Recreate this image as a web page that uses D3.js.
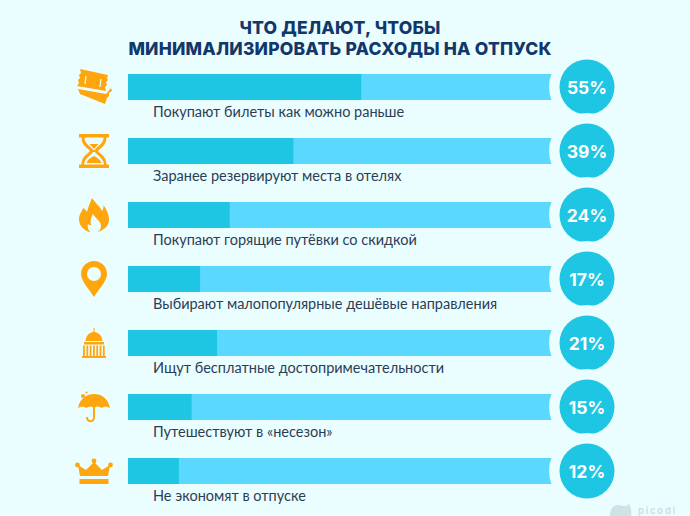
<!DOCTYPE html>
<html>
<head>
<meta charset="utf-8">
<script src="https://cdnjs.cloudflare.com/ajax/libs/d3/7.8.5/d3.min.js"></script>
<style>
  html, body { margin: 0; padding: 0; background: #ebfeff; }
  svg { display: block; }
  text { font-family: Inter, "Open Sans", sans-serif; }
  .label { font-family: Lato, "Open Sans", sans-serif; }
</style>
</head>
<body>
<svg id="chart" width="690" height="516"></svg>
<script>
const titleLines = ['ЧТО ДЕЛАЮТ, ЧТОБЫ', 'МИНИМАЛИЗИРОВАТЬ РАСХОДЫ НА ОТПУСК'];
const categories = [
  'Покупают билеты как можно раньше',
  'Заранее резервируют места в отелях',
  'Покупают горящие путёвки со скидкой',
  'Выбирают малопопулярные дешёвые направления',
  'Ищут бесплатные достопримечательности',
  'Путешествуют в «несезон»',
  'Не экономят в отпуске'
];
const values = [55, 39, 24, 17, 21, 15, 12];
const iconNames = ['ticket', 'hourglass', 'flame', 'pin', 'capitol', 'umbrella', 'crown'];

const bgColor = '#ebfeff';
const trackColor = '#5ad8ff';
const fillColor = '#1fc6e3';
const iconColor = '#ffa60f';

const svg = d3.select('#chart');
svg.append('rect').attr('width', 690).attr('height', 516).attr('fill', bgColor);

// scales
const x = d3.scaleLinear().domain([0, 100]).range([128, 552]);
const y = d3.scalePoint().domain(categories).range([87, 471]);
const barH = 26;

// title
svg.selectAll('.title')
  .data(titleLines)
  .enter().append('text')
  .attr('class', 'title')
  .attr('x', 340)
  .attr('y', (d, i) => 34 + i * 21)
  .attr('text-anchor', 'middle')
  .attr('font-size', 17.5)
  .attr('font-weight', 800)
  .attr('letter-spacing', 0.2)
  .attr('fill', '#12386b')
  .text(d => d);

const rows = svg.selectAll('.row')
  .data(categories)
  .enter().append('g')
  .attr('class', 'row');

rows.append('rect')
  .attr('x', x(0))
  .attr('y', d => y(d) - barH / 2)
  .attr('width', x(100) - x(0))
  .attr('height', barH)
  .attr('fill', trackColor);

rows.append('rect')
  .attr('x', x(0))
  .attr('y', d => y(d) - barH / 2)
  .attr('width', (d, i) => x(values[i]) - x(0))
  .attr('height', barH)
  .attr('fill', fillColor);

// background ring cuts the end of the bar
rows.append('circle')
  .attr('cx', 587)
  .attr('cy', d => y(d))
  .attr('r', 38)
  .attr('fill', bgColor);

rows.append('circle')
  .attr('cx', 587)
  .attr('cy', d => y(d))
  .attr('r', 27.5)
  .attr('fill', fillColor);

rows.append('text')
  .attr('x', 587)
  .attr('y', d => y(d) + 6.5)
  .attr('text-anchor', 'middle')
  .attr('font-size', 17.5)
  .attr('font-weight', 700)
  .attr('fill', '#fff')
  .text((d, i) => values[i] + '%');

rows.append('text')
  .attr('class', 'label')
  .attr('x', 153)
  .attr('y', d => y(d) + 30)
  .attr('font-size', 14.5)
  .attr('fill', '#2b3d55')
  .text(d => d);

// icons, drawn around (0,0)
const icons = {
  ticket(g) {
    g.append('path').attr('d', 'M-14,-18 L14,-12 L13,-9 L14,-7 L12,-5 L13,-2 L11,0 L12,4 L-17,-1 L-15,-4 L-16,-7 L-14,-9 L-15,-12 L-13,-14 Z');
    g.append('path').attr('d', 'M-16,2 L12,7 L17,1 L18,4 L15,6 L15,9 L13,11 L11,17 L-14,7 Z');
    g.append('path').attr('d', 'M-8,-11 L-9,-3 M7,-8 L6,0').attr('stroke', bgColor).attr('stroke-width', 1.2).attr('fill', 'none');
  },
  hourglass(g) {
    g.append('path').attr('d', 'M-15,-17 H15 V-13.5 H12.5 C12.5,-5 6,-3 4,0 C6,3 12.5,5 12.5,13.5 H15 V17 H-15 V13.5 H-12.5 C-12.5,5 -6,3 -4,0 C-6,-3 -12.5,-5 -12.5,-13.5 H-15 Z');
    g.append('path').attr('d', 'M-9.5,-13.5 H9.5 C9.5,-7 3,-5 1,-1 H-1 C-3,-5 -9.5,-7 -9.5,-13.5 Z M-10,13.5 C-10,8 -3,4 -1,1 H1 C3,4 10,8 10,13.5 Z').attr('fill', bgColor);
    g.append('path').attr('d', 'M-4.5,-7 H4.5 L0,-2 Z M-7.5,12 C-6,8 -2,6 0,5 C2,6 6,8 7.5,12 Z');
  },
  flame(g) {
    g.append('path').attr('d', 'M-2,-17 C2,-11 6,-9 8,-4 C9.5,-6 9.5,-8 9.5,-10 C13,-5 15,0 15,4 C15,11 10,15 4,17 L-5,17 C-10,15 -15,11 -15,4 C-15,-1 -12,-3 -11,-7 C-9,-6 -8,-5 -7,-3 C-6,-8 -4,-12 -2,-17 Z');
    g.append('path').attr('d', 'M-1,-1 C1,3 7,6 7,11 C7,14 5,16 3,18 H-3 C-6,15 -7,12 -6,9 C-5,10 -4,10 -3,10 C-4,6 -3,2 -1,-1 Z').attr('fill', bgColor);
  },
  pin(g) {
    g.append('path')
      .attr('fill-rule', 'evenodd')
      .attr('d', 'M0,18 C-5,10 -13,2 -13,-5 A13,13 0 1 1 13,-5 C13,2 5,10 0,18 Z M0,-12 A7,7 0 1 0 0,2 A7,7 0 1 0 0,-12 Z');
  },
  capitol(g) {
    g.append('path').attr('d', 'M-0.5,-15 H0.5 V-11 C5,-10.5 8,-7 8.5,-2 H-8.5 C-8,-7 -5,-10.5 -0.5,-11 Z');
    g.append('rect').attr('x', -10).attr('y', -1).attr('width', 20).attr('height', 2.5);
    g.append('rect').attr('x', -12).attr('y', 13).attr('width', 24).attr('height', 2);
    d3.range(-10, 11, 3.3).forEach(cx => {
      g.append('rect').attr('x', cx - 0.9).attr('y', 2.5).attr('width', 1.8).attr('height', 10.5);
    });
  },
  umbrella(g) {
    g.append('path').attr('d', 'M-16,1 C-14,-9 -7,-13 0,-13 C7,-13 14,-9 16,1 C13,-1 10,-1 8,1 C5,-1 2,-1 0,1 C-2,-1 -5,-1 -8,1 C-10,-1 -13,-1 -16,1 Z');
    g.append('path').attr('d', 'M0,-2 V10 C0,15.5 -7,15.5 -7,10').attr('fill', 'none').attr('stroke', iconColor).attr('stroke-width', 2);
    g.append('circle').attr('cx', -11).attr('cy', -11).attr('r', 2);
    g.append('circle').attr('cx', -7.5).attr('cy', -14.5).attr('r', 1.1);
  },
  crown(g) {
    g.append('path').attr('d', 'M-14,5 L-16,-6 L-8,-1 L0,-9 L8,-1 L16,-6 L14,5 Z');
    g.append('circle').attr('cx', -16.5).attr('cy', -6).attr('r', 2.4);
    g.append('circle').attr('cx', 0).attr('cy', -10).attr('r', 2.4);
    g.append('circle').attr('cx', 16.5).attr('cy', -6).attr('r', 2.4);
    g.append('rect').attr('x', -14.5).attr('y', 8).attr('width', 29).attr('height', 5);
  }
};

rows.append('g')
  .attr('fill', iconColor)
  .attr('transform', d => `translate(94,${y(d)})`)
  .each(function (d, i) { icons[iconNames[i]](d3.select(this)); });

// watermark
const mark = svg.append('g').attr('opacity', 0.3);
mark.append('path')
  .attr('d', 'M610,516 C610,508 614,505 618,505 C622,505 625,508 629,504 C631,508 632,512 631,516 Z')
  .attr('fill', '#8fa6b5');
mark.append('text')
  .attr('x', 638)
  .attr('y', 514)
  .attr('font-size', 9.5)
  .attr('font-weight', 600)
  .attr('letter-spacing', 1.8)
  .attr('fill', '#7d95a6')
  .text('picodi');
</script>
</body>
</html>
